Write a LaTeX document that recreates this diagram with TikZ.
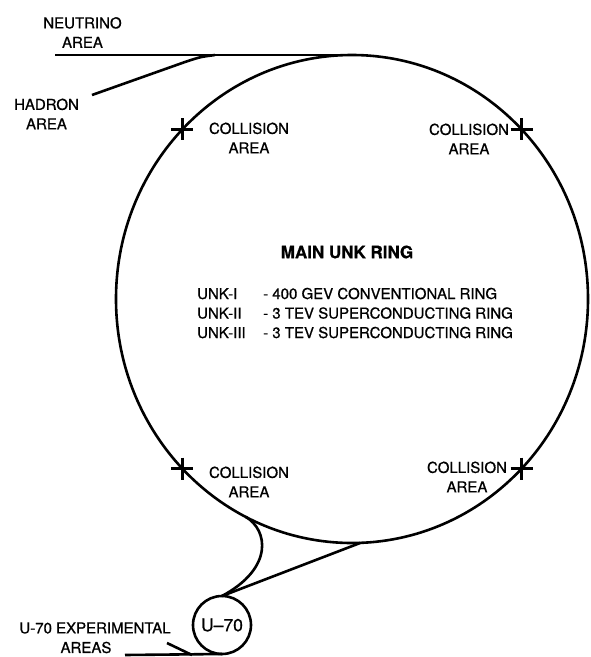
\documentclass[tikz,border=0pt]{standalone}
\usepackage{fontspec}
\setmainfont[FakeBold=0.8]{TeX Gyre Heros}
\usetikzlibrary{shapes.geometric}

\begin{document}
\begin{tikzpicture}[
    x=1pt, y=-1pt,
    beam/.style={line width=2.6pt},
    lbl/.style={font=\fontsize{15}{19.5}\selectfont, align=center, inner sep=0pt},
    hit/.style={line width=3pt}
]
\useasboundingbox (0,0) rectangle (590,657);

% rings
\node[beam, draw, ellipse, minimum width=472pt, minimum height=488pt, inner sep=0pt, outer sep=0pt] (ring) at (352,299) {};
\node[beam, draw, circle, minimum size=58pt, inner sep=0pt, outer sep=0pt, font=\fontsize{17.5}{20}\selectfont] (u70) at (222,625) {U--70};

% collision points
\foreach \a in {45,135,225,315}
  \draw[hit] (ring.\a) +(-11,0) -- +(11,0) +(0,-11) -- +(0,11);

% beam lines
\coordinate (nu) at (55,55);
\coordinate (had) at (92,95);
\coordinate (merge) at (215,55);
\coordinate (areas) at (125,655);
\coordinate (spur) at (167,643);
\coordinate (join) at (192,655);
\draw[beam] (nu) -- (ring.north);
\draw[beam] (had) -- (185,62) .. controls (200,57) .. (merge);
\draw[beam] (ring.244) .. controls (268,530) and (274,568) .. (u70.north);
\draw[beam] (ring.272) -- (u70.north);
\draw[beam] (areas) -- (u70.south);
\draw[beam] (spur) -- (join);

% texts
\node[font=\fontsize{17}{20}\selectfont\bfseries] (title) at (347,252) {MAIN UNK RING};
\node[lbl, align=left, anchor=north west] (stages) at (197,287.6) {%
  \makebox[66pt][l]{UNK-I}- 400 GEV CONVENTIONAL RING\\
  \makebox[66pt][l]{UNK-II}- 3 TEV SUPERCONDUCTING RING\\
  \makebox[66pt][l]{UNK-III}- 3 TEV SUPERCONDUCTING RING};
\node[lbl] (neutrino) at (82.5,32.5) {NEUTRINO\\AREA};
\node[lbl] (hadron) at (46.5,114) {HADRON\\AREA};
\node[lbl] (col1) at (249,138) {COLLISION\\AREA};
\node[lbl] (col2) at (469,139) {COLLISION\\AREA};
\node[lbl] (col3) at (249,482) {COLLISION\\AREA};
\node[lbl] (col4) at (467,477) {COLLISION\\AREA};
\node[lbl] (u70exp) at (95,628) {U-70 EXPERIMENTAL};
\node[lbl] (u70areas) at (86,647.5) {AREAS};
\end{tikzpicture}
\end{document}
